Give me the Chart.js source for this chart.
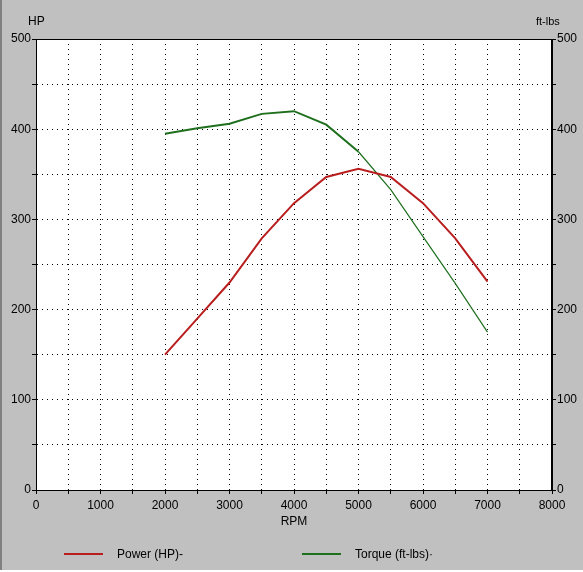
<!DOCTYPE html>
<html>
<head>
<meta charset="utf-8">
<script src="https://cdn.jsdelivr.net/npm/chart.js@4"></script>
<style>
  html, body { margin: 0; padding: 0; background: #c0c0c0; }
  #wrap { width: 583px; height: 572px; }
</style>
</head>
<body>
<div id="wrap"><canvas id="Dyno" width="583" height="572"></canvas></div>
<script>
const rpm = [2000, 2500, 3000, 3500, 4000, 4500, 5000, 5500, 6000, 6500, 7000];
const power_hp = [150, 190, 230, 279, 318, 347, 356, 347, 318, 279, 231];
const torque_ftlbs = [395, 401, 406, 417, 420, 405, 375, 333, 281, 229, 175];

const series_names = ['Power (HP)-', 'Torque (ft-lbs)·'];
const series_colors = ['rgb(185,30,30)', 'rgb(30,112,30)'];
const left_title = 'HP';
const right_title = 'ft-lbs';
const x_title = 'RPM';

const font_name = '"Liberation Sans", Arial, sans-serif';

// frame, background, side titles and legend
const dyno_frame = {
    id: 'dyno_frame',
    beforeDraw(chart) {
        const {ctx, chartArea: a} = chart;
        ctx.save();
        ctx.fillStyle = '#c0c0c0';
        ctx.fillRect(0, 0, chart.width, chart.height);
        ctx.fillStyle = '#808080';
        ctx.fillRect(0, 0, 2, chart.height);
        ctx.fillStyle = '#ffffff';
        ctx.fillRect(0, chart.height - 2, chart.width, 2);
        ctx.fillRect(a.left, a.top, a.right - a.left, a.bottom - a.top);
        ctx.restore();
    },
    afterDraw(chart) {
        const {ctx, chartArea: a} = chart;
        ctx.save();
        ctx.strokeStyle = '#000';
        ctx.lineWidth = 1;
        ctx.strokeRect(a.left + 0.5, a.top + 0.5, a.right - a.left - 1, a.bottom - a.top);

        ctx.fillStyle = '#000';
        ctx.textBaseline = 'middle';
        ctx.font = '12px ' + font_name;
        ctx.textAlign = 'left';
        ctx.fillText(left_title, 28, 22);
        ctx.font = '11px ' + font_name;
        ctx.fillText(right_title, 536, 22);

        // legend
        const slots = [[64, 117], [302, 355]];
        ctx.font = '12px ' + font_name;
        chart.data.datasets.forEach((ds, i) => {
            const [lx, tx] = slots[i];
            ctx.strokeStyle = ds.borderColor;
            ctx.lineWidth = 2;
            ctx.beginPath();
            ctx.moveTo(lx, 554);
            ctx.lineTo(lx + 39, 554);
            ctx.stroke();
            ctx.fillStyle = '#000';
            ctx.fillText(ds.label, tx, 555);
        });
        ctx.restore();
    }
};

const to_points = (ys) => rpm.map((r, i) => ({x: r, y: ys[i]}));

const grid_style = {
    color: '#000',
    lineWidth: 1,
    tickLength: 4,
    tickColor: '#000',
};
const border_style = {
    display: true,
    color: '#000',
    width: 1,
    dash: [1, 4],
};

new Chart(
    document.getElementById('Dyno'),
    {
        type: 'line',
        data: {
            datasets: [
                {
                    label: series_names[0],
                    data: to_points(power_hp),
                    borderColor: series_colors[0],
                    borderWidth: 2,
                    pointRadius: 0,
                    tension: 0,
                    yAxisID: 'y',
                },
                {
                    label: series_names[1],
                    data: to_points(torque_ftlbs),
                    borderColor: series_colors[1],
                    borderWidth: 2,
                    pointRadius: 0,
                    tension: 0,
                    yAxisID: 'y1',
                    segment: {
                        borderWidth: (c) => c.p0.parsed.x >= 5000 ? 1.2 : 2,
                    },
                }
            ]
        },
        options: {
            responsive: false,
            animation: false,
            devicePixelRatio: 1,
            layout: {
                padding: {top: 39, left: 0, right: 0, bottom: 42}
            },
            plugins: {
                legend: {display: false},
                tooltip: {enabled: false},
            },
            scales: {
                x: {
                    type: 'linear',
                    min: 0,
                    max: 8000,
                    afterFit: (s) => { s.height = 40; },
                    grid: grid_style,
                    border: border_style,
                    ticks: {
                        stepSize: 500,
                        autoSkip: false,
                        maxRotation: 0,
                        padding: 4,
                        color: '#000',
                        font: {family: font_name, size: 12},
                        callback: (v) => v % 1000 === 0 ? String(v) : '',
                    },
                    title: {
                        display: true,
                        text: x_title,
                        color: '#000',
                        font: {family: font_name, size: 12},
                        padding: {top: 0, bottom: 1},
                    },
                },
                y: {
                    position: 'left',
                    min: 0,
                    max: 500,
                    afterFit: (s) => { s.width = 36; },
                    grid: grid_style,
                    border: border_style,
                    ticks: {
                        stepSize: 50,
                        autoSkip: false,
                        padding: 1,
                        color: '#000',
                        font: {family: font_name, size: 12},
                        callback: (v) => v % 100 === 0 ? String(v) : '',
                    },
                },
                y1: {
                    position: 'right',
                    min: 0,
                    max: 500,
                    afterFit: (s) => { s.width = 31; },
                    grid: {
                        drawOnChartArea: false,
                        tickLength: 4,
                        tickColor: '#000',
                    },
                    border: {display: true, color: '#000', width: 1},
                    ticks: {
                        stepSize: 50,
                        autoSkip: false,
                        padding: 1,
                        color: '#000',
                        font: {family: font_name, size: 12},
                        callback: (v) => v % 100 === 0 ? String(v) : '',
                    },
                },
            },
        },
        plugins: [dyno_frame],
    }
);
</script>
</body>
</html>
